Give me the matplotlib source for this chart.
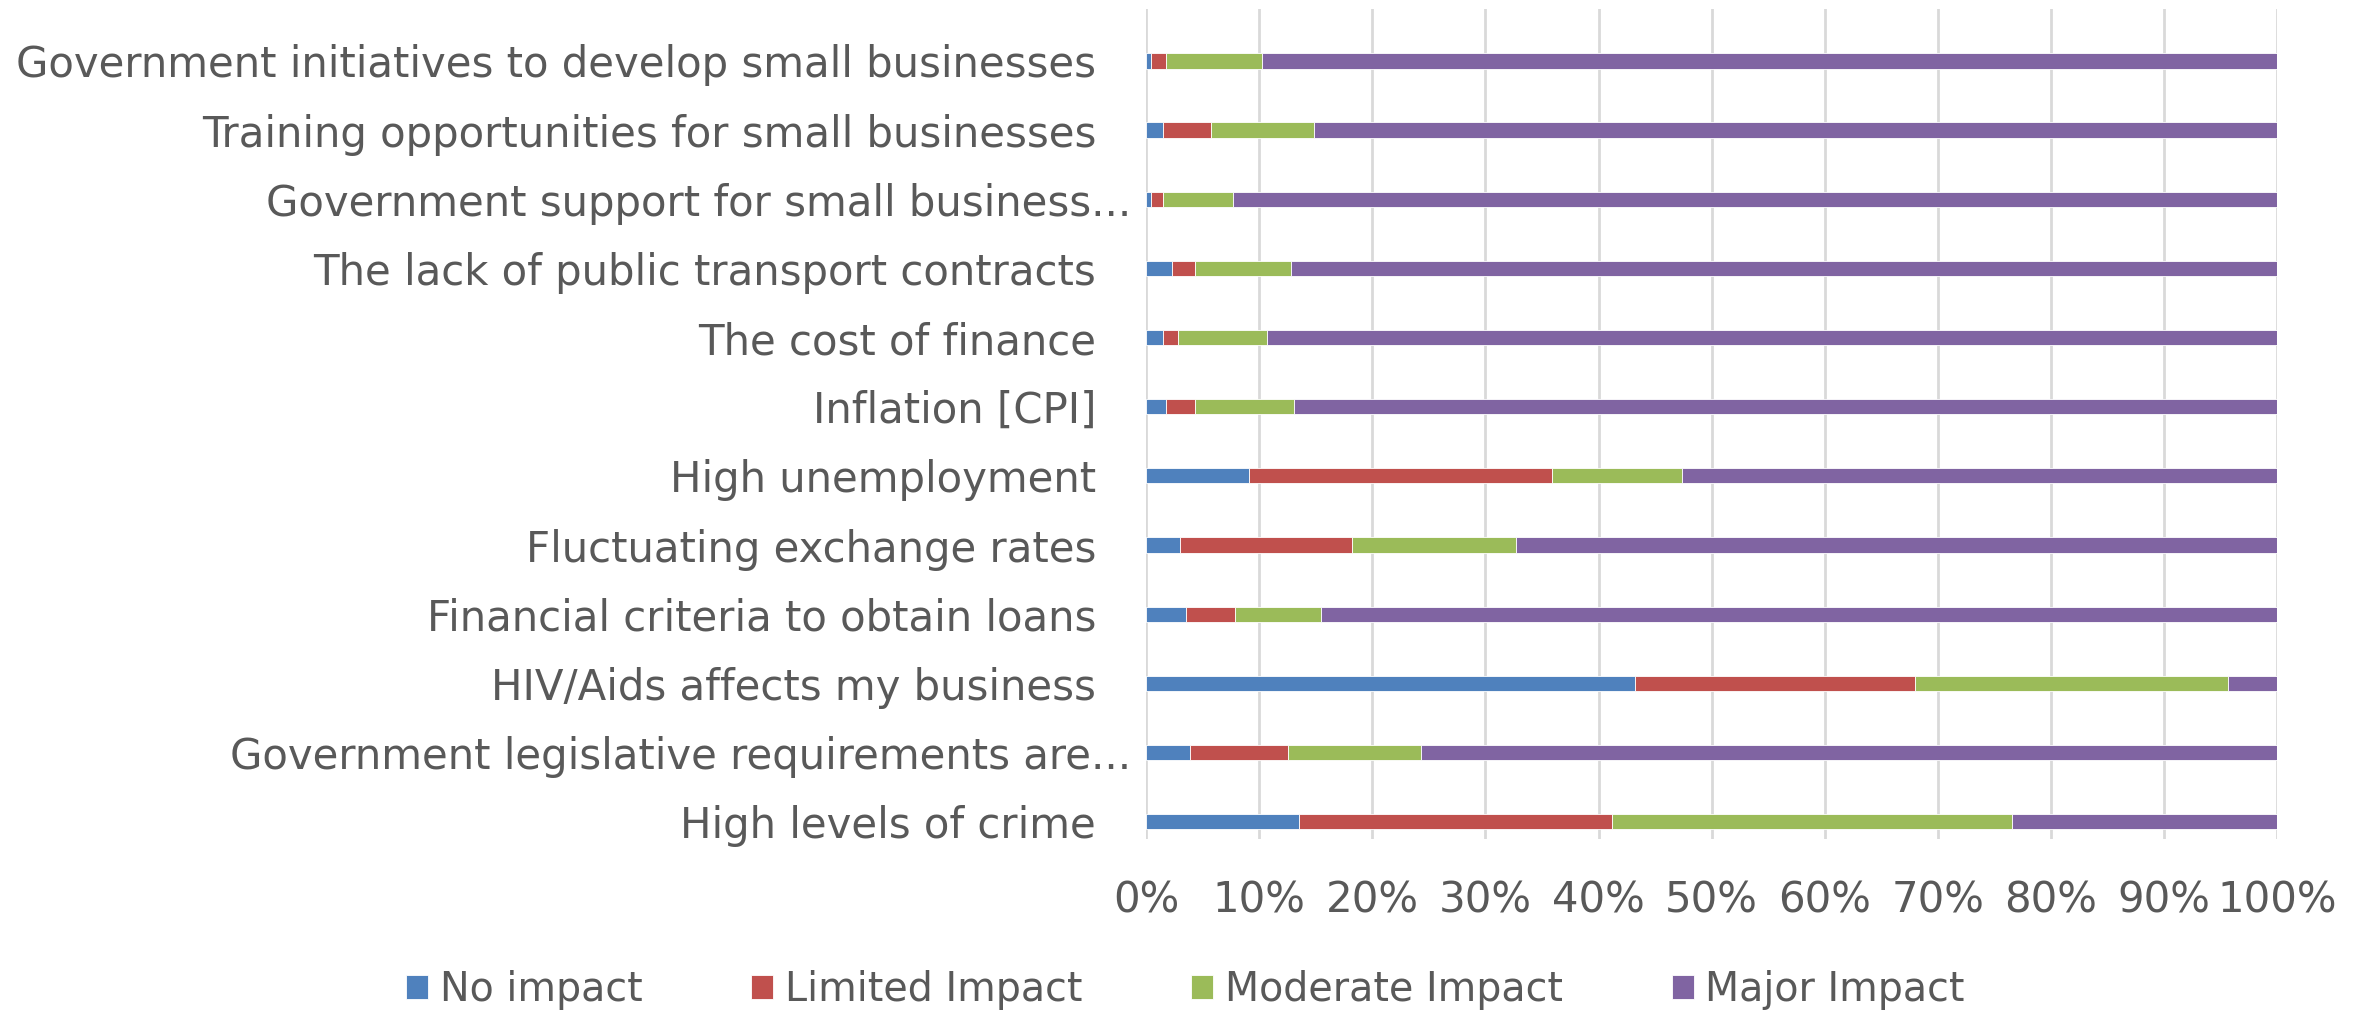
import numpy as np
from matplotlib import pyplot as plt
from matplotlib.transforms import ScaledTranslation

# survey factors, listed top to bottom
categories = [
    "Government initiatives to develop small businesses",
    "Training opportunities for small businesses",
    "Government support for small business...",
    "The lack of public transport contracts",
    "The cost of finance",
    "Inflation [CPI]",
    "High unemployment",
    "Fluctuating exchange rates",
    "Financial criteria to obtain loans",
    "HIV/Aids affects my business",
    "Government legislative requirements are...",
    "High levels of crime",
]

# share of respondents (%) per impact level
no_impact = [0.4, 1.5, 0.4, 2.3, 1.5, 1.8, 9.1, 3.0, 3.5, 43.2, 3.9, 13.5]
limited_impact = [1.4, 4.2, 1.1, 2.0, 1.3, 2.5, 26.8, 15.2, 4.4, 24.8, 8.6, 27.7]
moderate_impact = [8.4, 9.1, 6.2, 8.5, 7.9, 8.8, 11.5, 14.5, 7.6, 27.7, 11.8, 35.4]
major_impact = [89.8, 85.2, 92.3, 87.2, 89.3, 86.9, 52.6, 67.3, 84.5, 4.3, 75.7, 23.4]

series_names = ["No impact", "Limited Impact", "Moderate Impact", "Major Impact"]
series_colors = ["#4F81BD", "#C0504D", "#9BBB59", "#8064A2"]
x_ticks = np.arange(0, 101, 10)

plt.rcParams["font.family"] = ["DejaVu Sans"]
text_color = "#595959"
font_size = 30.2


def main():
    fig = plt.figure(figsize=(23.71, 10.14), dpi=100)
    ax = fig.add_axes([0.4834, 0.1726, 0.9604 - 0.4834, 0.9911 - 0.1726])

    y = np.arange(len(categories))
    left = np.zeros(len(categories))
    for name, vals, color in zip(
        series_names, [no_impact, limited_impact, moderate_impact, major_impact], series_colors
    ):
        vals = np.array(vals)
        ax.barh(y, vals, left=left, height=0.22, color=color, label=name,
                edgecolor="white", linewidth=0.6, zorder=3)
        left += vals

    ax.set_xlim(0, 100)
    ax.set_ylim(11.25, -0.75)
    ax.set_xticks(x_ticks)
    ax.set_xticklabels([f"{t}%" for t in x_ticks])
    ax.set_yticks(y)
    ax.set_yticklabels(categories)

    ax.grid(axis="x", color="#D9D9D9", linewidth=2, zorder=0)
    for s in ax.spines.values():
        s.set_visible(False)
    ax.tick_params(axis="both", length=0, labelsize=font_size, labelcolor=text_color)
    ax.tick_params(axis="y", pad=36)
    ax.tick_params(axis="x", pad=29)

    # truncated labels sit a little further right
    for lab in ax.get_yticklabels():
        if lab.get_text().endswith("..."):
            lab.set_transform(lab.get_transform() + ScaledTranslation(0.35, 0, fig.dpi_scale_trans))

    fig.legend(loc="center", bbox_to_anchor=(0.5, 0.024), ncol=4, frameon=False,
               fontsize=28.5, labelcolor=text_color, handlelength=0.55, handleheight=0.55,
               handletextpad=0.3, columnspacing=2.75)

    fig.savefig("out.png", dpi=100)


if __name__ == "__main__":
    main()
